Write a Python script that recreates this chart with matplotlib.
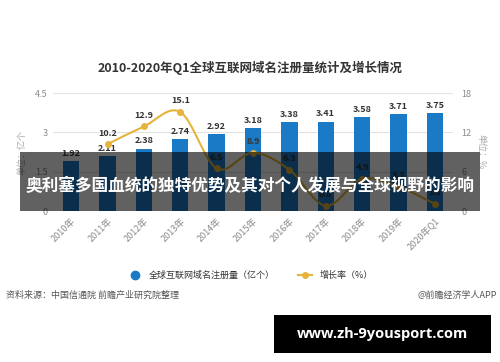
import numpy as np
import matplotlib
matplotlib.use("Agg")
import matplotlib.pyplot as plt
from matplotlib.path import Path
from matplotlib.patches import PathPatch, Rectangle
from matplotlib.lines import Line2D

plt.rcParams['font.family'] = ['Noto Sans CJK SC', 'DejaVu Sans']

years = ['2010年', '2011年', '2012年', '2013年', '2014年', '2015年',
         '2016年', '2017年', '2018年', '2019年', '2020年Q1']
domains = [1.92, 2.11, 2.38, 2.74, 2.92, 3.18, 3.38, 3.41, 3.58, 3.71, 3.75]
growth = [None, 10.2, 12.9, 15.1, 6.5, 8.9, 6.3, 0.8, 4.9, 3.7, 1.1]

bar_color = '#1b7ac6'
line_color = '#e6b43c'
grey = '#8a8a8a'

fig = plt.figure(figsize=(5, 3.62), dpi=100)
ax = fig.add_axes([0.106, 0.417, 0.8, 0.326])
ax2 = ax.twinx()

x = np.arange(len(years))
ax.bar(x, domains, width=0.45, color=bar_color, zorder=2)
for xi, v in zip(x, domains):
    ax.text(xi, v + 0.12, f'{v:.2f}', ha='center', va='bottom', fontsize=6.5,
            color='#333333', fontweight='bold')

ax.set_xlim(-0.5, len(years) - 0.5)
ax.set_ylim(0, 4.5)
ax.set_yticks([0, 1.5, 3, 4.5])
ax.set_yticklabels(['0', '1.5', '3', '4.5'])
ax.yaxis.grid(True, color='#e3e3e3', linewidth=0.8, zorder=0)
ax.set_axisbelow(True)
for s in ax.spines.values():
    s.set_visible(False)
for s in ax2.spines.values():
    s.set_visible(False)
ax.tick_params(axis='both', length=0, labelsize=6.5, labelcolor=grey, pad=4)
ax.set_xticks(x)
ax.set_xticklabels(years, rotation=45, ha='right', rotation_mode='anchor')
ax.set_ylabel('单位：亿个', fontsize=6.5, color='#aaaaaa', labelpad=6)

# smooth growth line (cubic bezier through the points)
gx = [xi for xi, g in zip(x, growth) if g is not None]
gy = [g for g in growth if g is not None]
pts = np.column_stack([gx, gy]).astype(float)
verts = [tuple(pts[0])]
codes = [Path.MOVETO]
n = len(pts)
for i in range(n - 1):
    p0 = pts[i - 1] if i > 0 else pts[i]
    p1 = pts[i]
    p2 = pts[i + 1]
    p3 = pts[i + 2] if i + 2 < n else pts[i + 1]
    c1 = p1 + (p2 - p0) / 6.0
    c2 = p2 - (p3 - p1) / 6.0
    verts += [tuple(c1), tuple(c2), tuple(p2)]
    codes += [Path.CURVE4] * 3
ax2.add_patch(PathPatch(Path(verts, codes), fill=False, edgecolor=line_color,
                        linewidth=1.5, zorder=3))
ax2.plot(gx, gy, 'o', color=line_color, markersize=4, zorder=4)
for xi, g in zip(gx, gy):
    ax2.text(xi, g + 1.0, f'{g}', ha='center', va='bottom', fontsize=6.5,
             color='#333333', fontweight='bold')
ax2.set_ylim(0, 18)
ax2.set_yticks([0, 6, 12, 18])
ax2.tick_params(axis='y', length=0, labelsize=6.5, labelcolor=grey, pad=6)
ax2.set_ylabel('单位：%', fontsize=6.5, color='#aaaaaa', rotation=270, labelpad=10)

fig.text(0.5, 0.812, '2010-2020年Q1全球互联网域名注册量统计及增长情况',
         ha='center', va='center', fontsize=9, fontweight='bold', color='#333333')

# legend
handles = [Line2D([], [], marker='o', linestyle='none', color=bar_color, markersize=6),
           Line2D([], [], marker='o', color=line_color, markersize=4, linewidth=1.5)]
fig.legend(handles, ['全球互联网域名注册量（亿个）', '增长率（%）'], loc='center',
           bbox_to_anchor=(0.5, 0.24), ncol=2, frameon=False, fontsize=6.5,
           handlelength=1.6, columnspacing=2.5, labelcolor='#333333')

fig.text(0.012, 0.185, '资料来源：中国信通院 前瞻产业研究院整理', ha='left',
         va='center', fontsize=6.5, color='#555555')
fig.text(0.995, 0.185, '@前瞻经济学人APP', ha='right', va='center',
         fontsize=6.5, color='#555555')

# dark banner over chart
fig.patches.append(Rectangle((0.04, 0.417), 0.92, 0.163, transform=fig.transFigure,
                             facecolor='black', alpha=0.62, zorder=10, edgecolor='none'))
fig.text(0.5, 0.486, '奥利塞多国血统的独特优势及其对个人发展与全球视野的影响',
         ha='center', va='center', fontsize=12, fontweight='bold', color='white',
         zorder=11)

# site box
fig.patches.append(Rectangle((0.548, 0.025), 0.434, 0.105, transform=fig.transFigure,
                             facecolor='black', zorder=10, edgecolor='none'))
fig.text(0.765, 0.077, 'www.zh-9yousport.com', ha='center', va='center',
         fontsize=10.5, fontweight='bold', color='white', zorder=11,
         family=['Open Sans', 'DejaVu Sans'])

fig.savefig('out.png', dpi=100)
